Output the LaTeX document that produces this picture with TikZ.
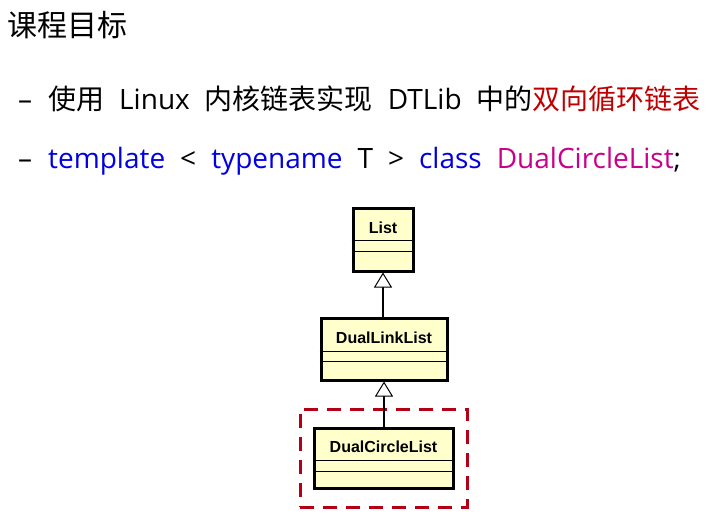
\documentclass[tikz,border=0pt]{standalone}
\usepackage{fontspec}
\usepackage{xcolor}
\usetikzlibrary{arrows.meta}
\setmainfont{Open Sans}
\newfontfamily\yahei{Noto Sans CJK SC}
\newfontfamily\boxfont{Liberation Sans}
\definecolor{kwblue}{RGB}{0,0,225}
\definecolor{clsred}{RGB}{192,0,0}
\definecolor{clspink}{RGB}{200,0,140}
\definecolor{frameRed}{RGB}{180,0,20}
\definecolor{clsfill}{RGB}{255,255,204}
\newcommand{\widesp}{\spaceskip=15pt\relax}

\tikzset{
	txt/.style={anchor=base west, inner sep=0pt, font=\fontsize{28}{28}\selectfont\widesp},
	clsbox/.style={draw=black, fill=clsfill, line width=3pt, rectangle},
	clsname/.style={inner sep=0pt, font=\boxfont\bfseries\fontsize{16}{16}\selectfont},
	inherit/.style={line width=1.3pt, -{Triangle[width=18pt, length=15pt, fill=white, line width=1pt]}}
}

\begin{document}
\begin{tikzpicture}[x=1pt, y=-1pt]
	\useasboundingbox (0,0) rectangle (713,514);

	% heading and bullet lines
	\node[txt, font=\yahei\fontsize{30}{30}\selectfont] (title) at (7,36) {课程目标};
	\node[txt] (dash1) at (18,109) {–};
	\node[txt] (line1) at (48,109)
		{{\yahei 使用} Linux {\yahei 内核链表实现} DTLib {\yahei 中的\textcolor{clsred}{双向循环链表}}};
	\node[txt] (dash2) at (18,168) {–};
	\node[txt] (line2) at (48,168)
		{\textcolor{kwblue}{template} < \textcolor{kwblue}{typename} T > \textcolor{kwblue}{class} \textcolor{clspink}{DualCircleList};};

	% class boxes
	\node[clsbox, minimum width=60pt, minimum height=63pt] (list) at (383,239.5) {};
	\node[clsname] (listname) at (383,228) {List};
	\draw[line width=1pt] ([yshift=-34pt]list.north west) -- ([yshift=-34pt]list.north east);
	\draw[line width=1pt] ([yshift=-45pt]list.north west) -- ([yshift=-45pt]list.north east);

	\node[clsbox, minimum width=126pt, minimum height=62pt] (dll) at (384,349) {};
	\node[clsname] (dllname) at (384,338) {DualLinkList};
	\draw[line width=1pt] ([yshift=-35pt]dll.north west) -- ([yshift=-35pt]dll.north east);
	\draw[line width=1pt] ([yshift=-45pt]dll.north west) -- ([yshift=-45pt]dll.north east);

	\node[clsbox, minimum width=139pt, minimum height=60pt] (dcl) at (383.5,458) {};
	\node[clsname] (dclname) at (383.5,447) {DualCircleList};
	\draw[line width=1pt] ([yshift=-34pt]dcl.north west) -- ([yshift=-34pt]dcl.north east);
	\draw[line width=1pt] ([yshift=-45pt]dcl.north west) -- ([yshift=-45pt]dcl.north east);

	% dashed frame round the new class
	\node[draw=frameRed, line width=3pt, dash pattern=on 14pt off 9pt,
		minimum width=167pt, minimum height=98pt] (frame) at (383.5,458) {};

	% inheritance
	\draw[inherit] (dll.north -| list.south) -- (list.south);
	\draw[inherit] (dcl.north -| dll.south) -- (dll.south);
\end{tikzpicture}
\end{document}
